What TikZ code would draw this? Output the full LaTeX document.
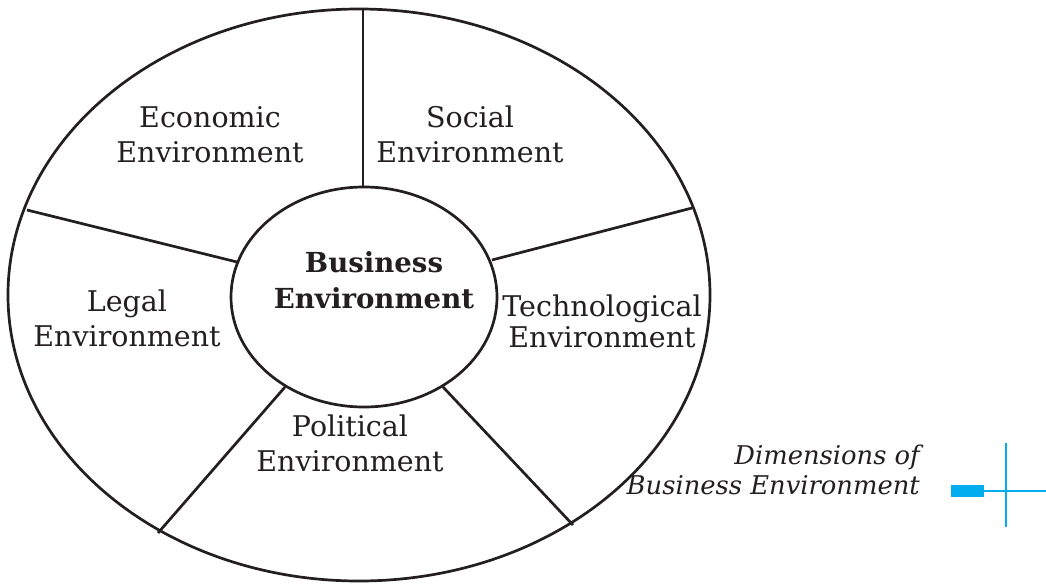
\documentclass[tikz,border=0pt]{standalone}
\usepackage{fontspec}
\setmainfont{DejaVu Serif}
\usetikzlibrary{shapes.geometric}
\definecolor{ink}{HTML}{231F20}
\definecolor{marker}{RGB}{0,174,239}
\tikzset{
  ring/.style={draw=ink, line width=2.7pt, ellipse, inner sep=0pt},
  divider/.style={draw=ink, line width=2.7pt},
  sector/.style={text=ink, inner sep=0pt, align=center, anchor=south,
    font=\fontsize{28.5}{35}\selectfont},
  corelabel/.style={text=ink, inner sep=0pt, align=center, anchor=south,
    font=\fontsize{27.6}{36}\selectfont\bfseries},
  caption/.style={text=ink, inner sep=0pt, align=right, anchor=south east,
    font=\fontsize{25.8}{30}\selectfont\itshape},
  markline/.style={draw=marker, line width=2.8pt},
}
\begin{document}
\begin{tikzpicture}[x=1pt,y=-1pt]
\useasboundingbox (0,0) rectangle (1046,585);
% ellipses
\node[ring, minimum width=702pt, minimum height=572pt] (outer) at (359,295) {};
\node[ring, minimum width=266pt, minimum height=220pt] (core) at (364,297) {};
% divider end points
\coordinate (o1) at (363,10);   \coordinate (i1) at (363,187);
\coordinate (o2) at (27,210);   \coordinate (i2) at (237,262);
\coordinate (o3) at (692,208);  \coordinate (i3) at (492,260);
\coordinate (o4) at (158,533);  \coordinate (i4) at (285,387);
\coordinate (o5) at (573,525);  \coordinate (i5) at (443,387);
\draw[divider] (o1) -- (i1);
\draw[divider] (o2) -- (i2);
\draw[divider] (o3) -- (i3);
\draw[divider] (o4) -- (i4);
\draw[divider] (o5) -- (i5);
% labels
\node[sector] (eco) at (210,163) {Economic\\Environment};
\node[sector] (soc) at (470,163) {Social\\Environment};
\node[sector] (leg) at (127,347) {Legal\\Environment};
\node[sector, font=\fontsize{28.5}{31}\selectfont] (tec) at (602,348) {Technological\\Environment};
\node[sector] (pol) at (350,472) {Political\\Environment};
\node[corelabel] (bus) at (374,309) {Business\\Environment};
% caption
\node[caption] (cap) at (920,495) {Dimensions of\\Business Environment};
% marker
\node[fill=marker, minimum width=33pt, minimum height=12pt, inner sep=0pt] (bar) at (967,491) {};
\coordinate (hend) at (1046,491);
\coordinate (vtop) at (1006,443);
\coordinate (vbot) at (1006,527);
\draw[markline] (bar.east) -- (hend);
\draw[markline] (vtop) -- (vbot);
\end{tikzpicture}
\end{document}
